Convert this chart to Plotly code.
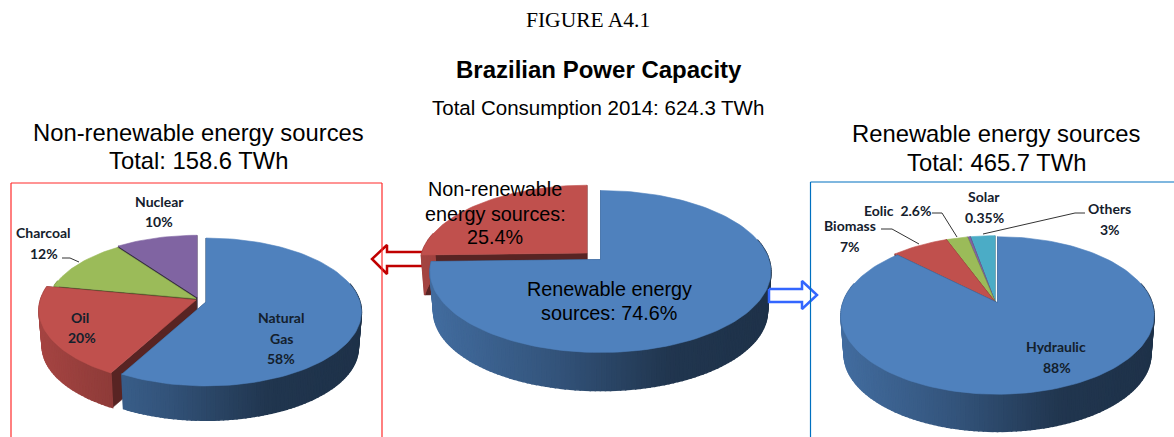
import math
import plotly.graph_objects as go

# ---------- data ----------
left_labels = ["Natural Gas", "Oil", "Charcoal", "Nuclear"]
left_values = [58, 20, 12, 10]
center_labels = ["Renewable energy sources", "Non-renewable energy sources"]
center_values = [74.6, 25.4]
right_labels = ["Hydraulic", "Biomass", "Eolic", "Solar", "Others"]
right_values = [88, 7, 2.6, 0.35, 3]

BLUE, RED, GREEN, PURPLE, TEAL = (79, 129, 189), (192, 80, 77), (155, 187, 89), (128, 100, 162), (75, 172, 198)
left_colors = [BLUE, RED, GREEN, PURPLE]
center_colors = [BLUE, RED]
right_colors = [BLUE, RED, GREEN, PURPLE, TEAL]

# pie geometry (pixels): apex, radii, perspective, depth
left_geom = dict(ax=206, ay=302, rx=154, ry=72.6, k=0.135, d=36)
center_geom = dict(ax=600.5, ay=259.5, rx=168.5, ry=79.2, k=0.148, d=40)
right_geom = dict(ax=997.5, ay=302.7, rx=154.5, ry=76.7, k=0.162, d=39)
# slice displacement and size relative to the pie's main slice
left_off = [(0, 0), (-10, -2), (-10, -3.5), (-9, -5)]
left_scale = [1, 1.01, 0.96, 0.96]
center_off = [(0, 0), (-13.5, -6.5)]
center_scale = [1, 0.98]
right_off = [(0, 0), (-2.5, -1), (-2.5, -1), (-2.5, -1), (-2.5, -1)]
right_scale = [1, 1, 1, 1, 1]
left_draw_order = [3, 2, 1, 0]
center_draw_order = [1, 0]
right_draw_order = [4, 3, 2, 1, 0]

fig = go.Figure()


def pt(theta, g, off=(0, 0), r=1.0, down=0.0):
    t = math.radians(theta)
    u, v = r * math.sin(t), -r * math.cos(t)
    w = 1 - g["k"] * v
    shrink = 1 - 0.02 * (down > 0)
    x = g["ax"] + off[0] + g["rx"] * shrink * u / w
    y = g["ay"] + off[1] + g["ry"] * shrink * v / w + down
    return x, y


def poly(points, color, lw=0.6):
    c = "rgb(%d,%d,%d)" % tuple(color)
    fig.add_trace(go.Scatter(
        x=[p[0] for p in points] + [points[0][0]],
        y=[p[1] for p in points] + [points[0][1]],
        mode="lines", fill="toself", fillcolor=c,
        line=dict(color=c, width=lw), hoverinfo="skip", showlegend=False))


def shade(color, f):
    return [c * f for c in color]


def wall_factor(frac):
    stops = [(0, 0.84), (0.35, 0.66), (0.7, 0.42), (1, 0.39)]
    for (a, fa), (b, fb) in zip(stops, stops[1:]):
        if frac <= b:
            return fa + (fb - fa) * (frac - a) / (b - a)
    return stops[-1][1]


def draw_pie(values, colors, g, offs, scales, order):
    total = sum(values)
    bounds = [0]
    for v in values:
        bounds.append(bounds[-1] + 360 * v / total)
    for i in order:
        a, b = bounds[i], bounds[i + 1]
        col, off, s = colors[i], offs[i], scales[i]
        d = g["d"]
        # cut faces
        for th in (a, b):
            f = [pt(th, g, off, r=s), pt(th, g, off, r=s, down=d), pt(th, g, off, r=0, down=d), pt(th, g, off, r=0)]
            poly(f, shade(col, 0.46))
        # curved wall
        lo, hi = max(a, 75), min(b, 285)
        if hi > lo:
            n = max(2, int((hi - lo) / 1.5))
            for j in range(n):
                t0 = lo + (hi - lo) * j / n
                t1 = lo + (hi - lo) * (j + 1) / n
                p0, p1 = pt(t0, g, off, r=s), pt(t1, g, off, r=s)
                frac = ((p0[0] + p1[0]) / 2 - (g["ax"] - g["rx"])) / (2 * g["rx"])
                poly([p0, p1, pt(t1, g, off, r=s, down=d), pt(t0, g, off, r=s, down=d)],
                     shade(col, wall_factor(frac)), lw=1.5)
        # top
        n = max(2, int((b - a) / 2))
        rim = [pt(a + (b - a) * j / n, g, off, r=s) for j in range(n + 1)]
        poly(rim + [pt(0, g, off, r=0)], col)


# ---------- arrows behind the pies ----------
def arrow(points, color):
    fig.add_trace(go.Scatter(
        x=[p[0] for p in points], y=[p[1] for p in points], mode="lines", fill="toself",
        fillcolor="white", line=dict(color=color, width=2.5, shape="linear"),
        hoverinfo="skip", showlegend=False))


arrow([(423, 252), (387, 252), (387, 245), (372, 259), (387, 274), (387, 266), (423, 266), (423, 252)], "#c00000")

draw_pie(center_values, center_colors, center_geom, center_off, center_scale, center_draw_order)
draw_pie(left_values, left_colors, left_geom, left_off, left_scale, left_draw_order)
draw_pie(right_values, right_colors, right_geom, right_off, right_scale, right_draw_order)

arrow([(769, 289), (802, 289), (802, 281), (817, 295), (802, 309), (802, 302), (769, 302), (769, 289)], "#3366ff")

# ---------- leader lines ----------
leaders = [
    [(62, 258), (70, 258), (79, 262)],
    [(881, 229), (892, 229), (919, 244)],
    [(932, 213), (942, 213), (957, 237)],
    [(1085, 213), (1075, 213), (983, 234)],
]
for L in leaders:
    fig.add_trace(go.Scatter(x=[p[0] for p in L], y=[p[1] for p in L], mode="lines",
                             line=dict(color="#333333", width=1), hoverinfo="skip", showlegend=False))

# ---------- text ----------
ARIAL = "Liberation Sans"
SERIF = "Liberation Serif"
LATO = "Lato"
DARK = "#14202c"
texts = [
    ("FIGURE A4.1", 588, 20, SERIF, 21.5, "#000000", False),
    ("Brazilian Power Capacity", 599, 69, ARIAL, 24, "#000000", True),
    ("Total Consumption 2014: 624.3 TWh", 598, 107, ARIAL, 20.5, "#000000", False),
    ("Non-renewable energy sources", 198, 132, ARIAL, 23.8, "#000000", False),
    ("Total: 158.6 TWh", 198, 160, ARIAL, 23.8, "#000000", False),
    ("Renewable energy sources", 996, 133, ARIAL, 23.8, "#000000", False),
    ("Total: 465.7 TWh", 996, 162, ARIAL, 23.8, "#000000", False),
    ("Non-renewable", 495, 189, ARIAL, 19.8, "#000000", False),
    ("energy sources:", 495, 214, ARIAL, 19.8, "#000000", False),
    ("25.4%", 495, 237, ARIAL, 19.8, "#000000", False),
    ("Renewable energy", 609, 289, ARIAL, 19.8, "#000000", False),
    ("sources: 74.6%", 609, 313, ARIAL, 19.8, "#000000", False),
    ("Nuclear", 159, 201, LATO, 14, DARK, True),
    ("10%", 159, 221, LATO, 14, DARK, True),
    ("Charcoal", 43, 232, LATO, 14, DARK, True),
    ("12%", 44, 253, LATO, 14, DARK, True),
    ("Oil", 80, 317, LATO, 14, DARK, True),
    ("20%", 82, 337, LATO, 14, DARK, True),
    ("Natural", 281, 317, LATO, 14, DARK, True),
    ("Gas", 281, 338, LATO, 14, DARK, True),
    ("58%", 281, 358, LATO, 14, DARK, True),
    ("Biomass", 850, 225, LATO, 14, DARK, True),
    ("7%", 850, 246, LATO, 14, DARK, True),
    ("Eolic  2.6%", 897, 210, LATO, 14, DARK, True),
    ("Solar", 984, 196, LATO, 14, DARK, True),
    ("0.35%", 984, 217, LATO, 14, DARK, True),
    ("Others", 1109, 208, LATO, 14, DARK, True),
    ("3%", 1110, 229, LATO, 14, DARK, True),
    ("Hydraulic", 1056, 346, LATO, 14, DARK, True),
    ("88%", 1057, 367, LATO, 14, DARK, True),
]
anns = [dict(x=x, y=y, text=("<b>%s</b>" % t if b else t), showarrow=False, xref="x", yref="y",
             xanchor="center", yanchor="middle", font=dict(family=f, size=s, color=c))
        for t, x, y, f, s, c, b in texts]

shapes = [
    dict(type="line", x0=11, y0=183, x1=11, y1=437, line=dict(color="#ff2a2a", width=1.2), xref="x", yref="y"),
    dict(type="line", x0=11, y0=183, x1=382, y1=183, line=dict(color="#ff2a2a", width=1.2), xref="x", yref="y"),
    dict(type="line", x0=382, y0=183, x1=382, y1=437, line=dict(color="#ff2a2a", width=1.2), xref="x", yref="y"),
    dict(type="line", x0=810.5, y0=182, x1=810.5, y1=437, line=dict(color="#0070c0", width=1.2), xref="x", yref="y"),
    dict(type="line", x0=810.5, y0=182, x1=1174, y1=182, line=dict(color="#0070c0", width=1.2), xref="x", yref="y"),
]

fig.update_layout(
    width=1174, height=437, margin=dict(l=0, r=0, t=0, b=0),
    paper_bgcolor="white", plot_bgcolor="white", showlegend=False,
    xaxis=dict(range=[0, 1174], visible=False, fixedrange=True),
    yaxis=dict(range=[437, 0], visible=False, fixedrange=True),
    annotations=anns, shapes=shapes,
)
fig.write_html("out.html", config=dict(displayModeBar=False),
               post_script="document.body.style.margin='0';document.body.style.overflow='hidden';")
